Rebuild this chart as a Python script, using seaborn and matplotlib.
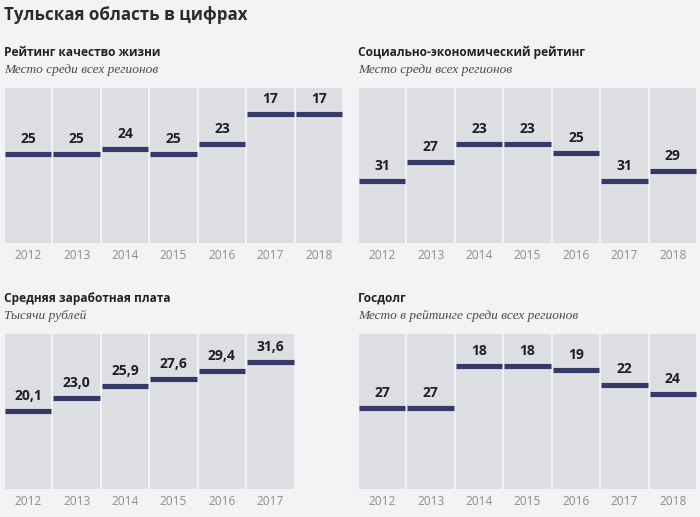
import numpy as np
import seaborn as sns
import matplotlib.pyplot as plt

# data
years = ["2012", "2013", "2014", "2015", "2016", "2017", "2018"]
quality_rank = [25, 25, 24, 25, 23, 17, 17]
socio_rank = [31, 27, 23, 23, 25, 31, 29]
salary = [20.1, 23.0, 25.9, 27.6, 29.4, 31.6]
salary_labels = ["20,1", "23,0", "25,9", "27,6", "29,4", "31,6"]
debt_rank = [27, 27, 18, 18, 19, 22, 24]

BG = "#f3f3f5"
COL = "#dcdee1"
LINE = "#353868"
FONT = "Open Sans"

sns.set_theme(style="white")
plt.rcParams["font.family"] = [FONT, "DejaVu Sans"]

fig = plt.figure(figsize=(7, 5.17), dpi=100)
fig.patch.set_facecolor(BG)

W, H = 700, 517


def px_axes(left, top, right, bottom):
    return fig.add_axes([left / W, 1 - bottom / H, (right - left) / W, (bottom - top) / H])


def panel(ax, values, labels, ylim, title, subtitle, title_y):
    ax.set_facecolor(BG)
    n = len(years)
    for i in range(n):
        ax.axvspan(i - 0.478, i + 0.478, color=COL, lw=0, zorder=0)
    x = np.arange(len(values))
    ax.hlines(values, x - 0.478, x + 0.478, color=LINE, lw=3.7, zorder=2)
    for xi, v, lab in zip(x, values, labels):
        ax.annotate(lab, (xi, v), xytext=(0, 8.0), textcoords="offset points",
                    ha="center", va="baseline", fontsize=10.0, fontweight="bold",
                    color="#1f1f24")
    ax.set_xlim(-0.5, n - 0.5)
    ax.set_ylim(*ylim)
    ax.set_yticks([])
    ax.set_xticks(range(n))
    ax.set_xticklabels(years, fontsize=8.6, color="#8c8c8c")
    ax.tick_params(axis="x", length=0, pad=4)
    for s in ax.spines.values():
        s.set_visible(False)
    # panel heading and subtitle, placed in figure pixels
    left = ax.get_position().x0
    fig.text(left, 1 - title_y / H, title, fontsize=8.6, fontweight="bold",
             color="#222226", va="baseline", ha="left")
    fig.text(left, 1 - (title_y + 17.5) / H, subtitle, fontsize=9.6, style="italic",
             color="#4a4a4a", va="baseline", ha="left", family="Liberation Serif")


fig.text(4 / W, 1 - 20 / H, "Тульская область в цифрах", fontsize=12.2,
         fontweight="bold", color="#2a2a2e", va="baseline", ha="left")

ax1 = px_axes(4, 88, 343, 243)
panel(ax1, quality_rank, [str(v) for v in quality_rank], (42.7, 11.9),
      "Рейтинг качество жизни", "Место среди всех регионов", 56)

ax2 = px_axes(358, 88, 697, 243)
panel(ax2, socio_rank, [str(v) for v in socio_rank], (44.5, 10.9),
      "Социально-экономический рейтинг", "Место среди всех регионов", 56)

ax3 = px_axes(4, 334, 343, 489)
panel(ax3, salary, salary_labels, (1.6, 38.2),
      "Средняя заработная плата", "Тысячи рублей", 302)
# salary panel has no 2018 column
ax3.patches[-1].remove()
ax3.get_xticklabels()[-1].set_visible(False)

ax4 = px_axes(358, 334, 697, 489)
panel(ax4, debt_rank, [str(v) for v in debt_rank], (44.1, 11.3),
      "Госдолг", "Место в рейтинге среди всех регионов", 302)

fig.savefig("out.png", dpi=100, facecolor=BG)
